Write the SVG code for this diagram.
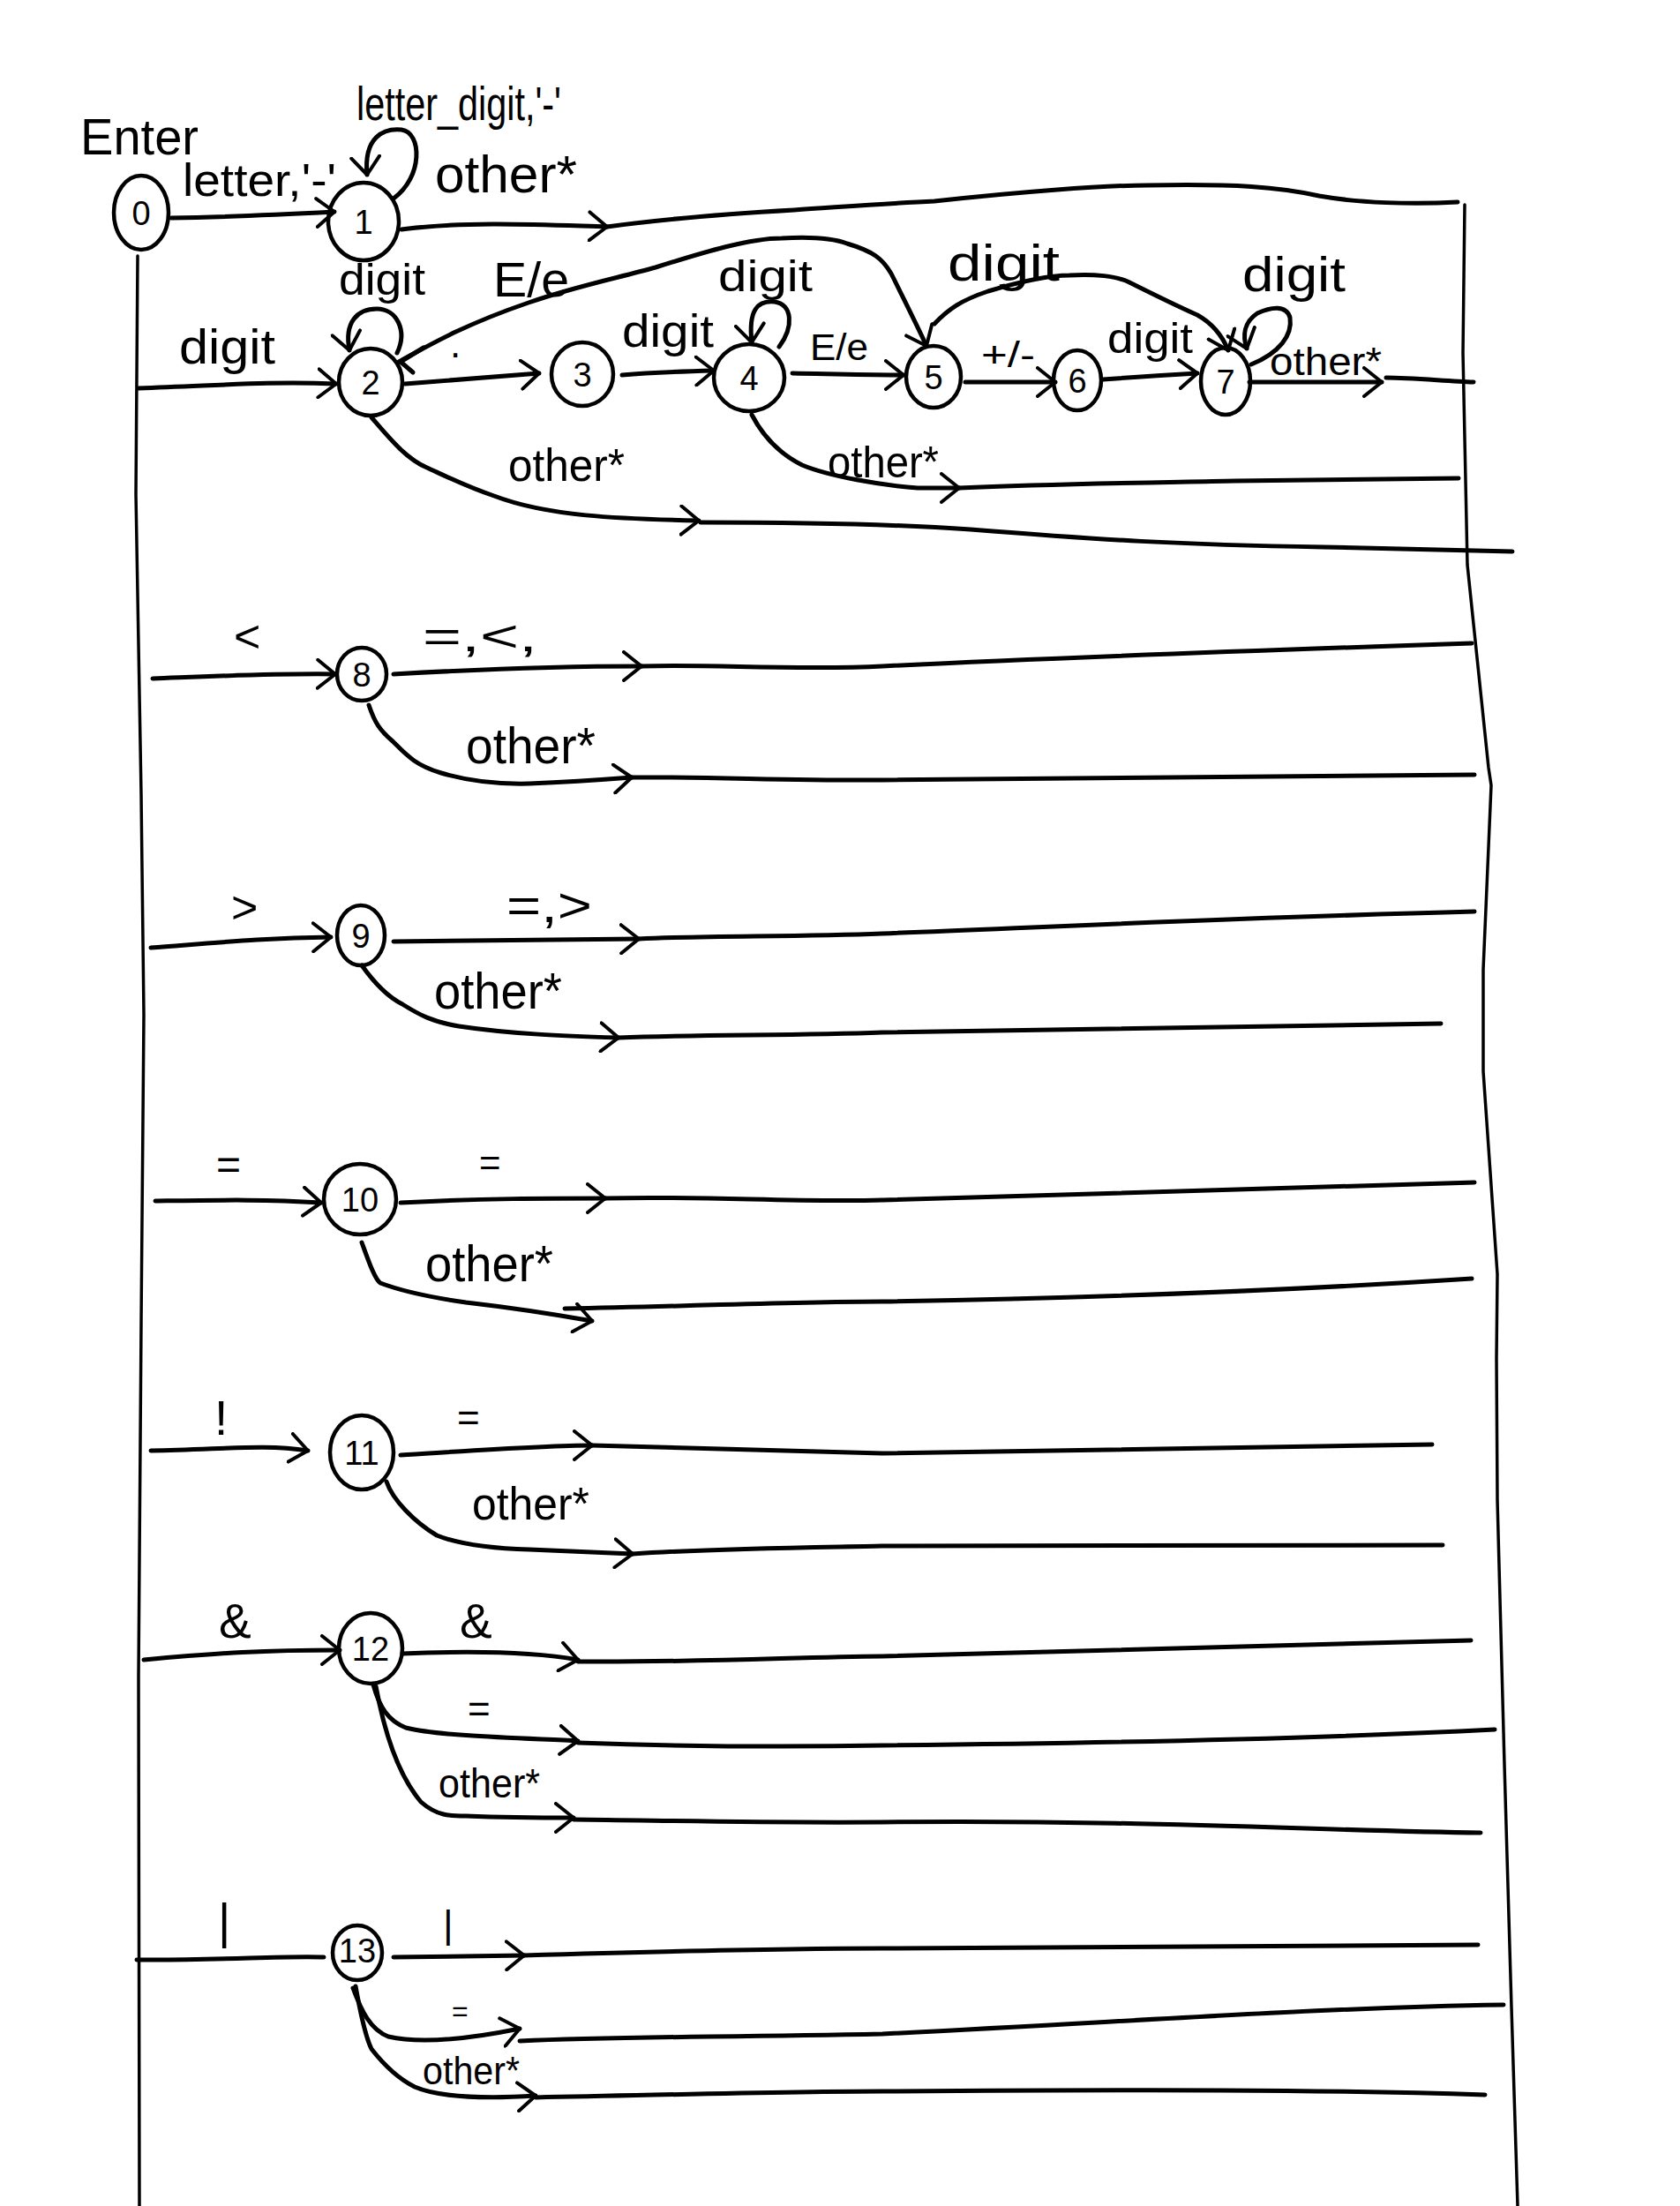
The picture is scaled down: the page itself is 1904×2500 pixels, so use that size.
<svg xmlns="http://www.w3.org/2000/svg" width="1904" height="2500" viewBox="0 0 1904 2500">
<defs>
<style>
.bg{fill:#ffffff}
.ln{fill:none;stroke:#000;stroke-width:5;stroke-linecap:round;stroke-linejoin:round}
.fr{fill:none;stroke:#000;stroke-width:3.5;stroke-linecap:round;stroke-linejoin:round}
.nd{fill:none;stroke:#000;stroke-width:4.5}
.t{font-family:"Liberation Sans","DejaVu Sans",sans-serif;fill:#000}
.nl{font-family:"Liberation Sans","DejaVu Sans",sans-serif;fill:#000;text-anchor:middle;font-size:38px}
</style>
<marker id="arr" viewBox="0 0 24 36" refX="22" refY="18" markerWidth="24" markerHeight="36" markerUnits="userSpaceOnUse" orient="auto">
<path d="M2,2 L22,18 L2,34" fill="none" stroke="#000" stroke-width="4" stroke-linecap="round" stroke-linejoin="round"/>
</marker>
</defs>
<rect class="bg" x="0" y="0" width="1904" height="2500"/>

<g id="connectors">
<!-- frame lines -->
<path class="fr" d="M156,290 L154,560 L160,900 L163,1150 L160,1500 L157,1900 L158,2500"/>
<path class="fr" d="M1660,232 L1658,400 L1663,640 L1687,870 L1690,890 L1681,1099 L1681,1214 L1697,1444 L1696,1540 L1697,1700 L1705,2000 L1713,2275 L1720,2500"/>
<!-- top -->
<path class="ln" marker-end="url(#arr)" d="M194,247 C260,246 320,243 379,240"/>
<path class="ln" marker-end="url(#arr)" d="M446,225 C480,200 478,150 455,147 C435,145 412,155 416,198"/>
<path class="ln" marker-end="url(#arr)" d="M455,260 C530,250 620,255 688,257"/>
<path class="ln" d="M688,257 C760,247 830,242 900,238 C960,234 1010,230 1059,228 C1150,218 1250,210 1300,210 C1400,208 1450,212 1495,222 C1540,230 1600,232 1652,229"/>
<!-- row 2 -->
<path class="ln" marker-end="url(#arr)" d="M157,440 C250,437 300,432 381,435"/>
<path class="ln" marker-end="url(#arr)" d="M450,400 C462,375 450,350 427,350 C405,350 390,365 396,397"/>
<path class="ln" marker-end="url(#arr)" d="M452,410 C480,395 520,370 599,343 C650,325 700,315 743,303 C800,285 850,270 886,270 C920,268 944,270 960,276 C990,285 1000,293 1010,310 C1025,340 1040,370 1050,392"/>
<path class="ln" d="M480,394 L454,410 L468,422"/>
<path class="ln" marker-end="url(#arr)" d="M459,435 C500,432 550,428 611,423"/>
<path class="ln" marker-end="url(#arr)" d="M705,425 C740,422 770,421 809,420"/>
<path class="ln" marker-end="url(#arr)" d="M883,393 C900,370 898,345 878,342 C858,340 848,352 852,388"/>
<path class="ln" marker-end="url(#arr)" d="M898,423 C950,424 980,425 1024,425"/>
<path class="ln" marker-end="url(#arr)" d="M852,470 C865,495 885,515 909,527 C940,540 1000,550 1040,553 L1087,553"/>
<path class="ln" d="M1087,553 C1200,548 1300,547 1400,545 L1653,542"/>
<path class="ln" marker-end="url(#arr)" d="M1094,433 L1196,433"/>
<path class="ln" marker-end="url(#arr)" d="M1250,430 C1290,427 1320,425 1357,423"/>
<path class="ln" marker-end="url(#arr)" d="M1059,367 C1075,350 1090,340 1120,330 C1160,318 1190,312 1212,312 C1240,310 1266,313 1280,320 C1300,330 1330,345 1357,357 C1375,367 1385,380 1392,397"/>
<path class="ln" marker-end="url(#arr)" d="M1418,413 C1450,400 1465,380 1462,360 C1458,345 1440,348 1425,355 C1410,365 1408,380 1413,395"/>
<path class="ln" marker-end="url(#arr)" d="M1416,433 L1566,433"/>
<path class="ln" d="M1571,428 C1600,428 1640,432 1670,433"/>
<path class="ln" marker-end="url(#arr)" d="M421,473 C440,495 460,520 484,530 C510,542 530,552 560,562 C620,585 700,588 792,590"/>
<path class="ln" d="M794,592 C900,592 1000,593 1100,600 C1250,612 1332,617 1500,620 L1714,625"/>
<!-- row 8 -->
<path class="ln" marker-end="url(#arr)" d="M173,769 C250,766 310,763 380,764"/>
<path class="ln" marker-end="url(#arr)" d="M446,764 C550,758 650,755 727,755"/>
<path class="ln" d="M727,755 C800,752 900,760 1000,755 C1200,745 1400,738 1668,729"/>
<path class="ln" marker-end="url(#arr)" d="M418,799 C425,820 431,828 445,840 C460,855 470,867 500,876 C530,885 560,889 600,888 C650,886 690,883 716,881"/>
<path class="ln" d="M716,881 C800,880 900,885 1000,884 L1671,878"/>
<!-- row 9 -->
<path class="ln" marker-end="url(#arr)" d="M171,1074 C250,1068 300,1063 375,1062"/>
<path class="ln" marker-end="url(#arr)" d="M446,1067 L724,1064"/>
<path class="ln" d="M724,1064 C800,1060 900,1062 1000,1058 C1200,1050 1400,1040 1671,1033"/>
<path class="ln" marker-end="url(#arr)" d="M410,1094 C425,1115 440,1130 456,1138 C475,1150 490,1158 520,1163 C580,1172 640,1174 701,1176"/>
<path class="ln" d="M701,1176 C800,1172 900,1174 1000,1170 L1633,1160"/>
<!-- row 10 -->
<path class="ln" marker-end="url(#arr)" d="M176,1361 C250,1360 300,1359 364,1363"/>
<path class="ln" marker-end="url(#arr)" d="M454,1363 C550,1358 620,1358 686,1358"/>
<path class="ln" d="M686,1358 C800,1355 900,1363 1000,1360 C1200,1352 1400,1346 1671,1340"/>
<path class="ln" marker-end="url(#arr)" d="M410,1408 C418,1430 425,1450 431,1454 C460,1465 500,1472 528,1476 C580,1482 620,1488 671,1497"/>
<path class="ln" d="M640,1483 C800,1480 900,1475 1000,1475 C1300,1470 1500,1460 1668,1449"/>
<!-- row 11 -->
<path class="ln" marker-end="url(#arr)" d="M171,1644 C250,1643 300,1636 349,1644"/>
<path class="ln" marker-end="url(#arr)" d="M454,1649 C550,1643 620,1638 671,1638"/>
<path class="ln" d="M671,1638 C800,1642 900,1645 1000,1647 C1200,1645 1400,1640 1623,1637"/>
<path class="ln" marker-end="url(#arr)" d="M438,1679 C445,1700 470,1725 495,1740 C520,1750 560,1755 600,1756 C650,1758 690,1760 717,1761"/>
<path class="ln" d="M717,1761 C800,1755 900,1754 1000,1752 L1635,1751"/>
<!-- row 12 -->
<path class="ln" marker-end="url(#arr)" d="M163,1881 C250,1873 300,1870 385,1870"/>
<path class="ln" marker-end="url(#arr)" d="M456,1874 C550,1870 610,1873 655,1881"/>
<path class="ln" d="M655,1883 C800,1884 900,1878 1000,1877 C1300,1870 1500,1865 1667,1859"/>
<path class="ln" marker-end="url(#arr)" d="M423,1909 C430,1935 440,1950 460,1958 C500,1968 600,1970 655,1973"/>
<path class="ln" d="M655,1975 C800,1980 900,1980 1000,1978 C1300,1975 1500,1970 1694,1960"/>
<path class="ln" marker-end="url(#arr)" d="M426,1911 C435,1960 450,2010 477,2042 C495,2058 510,2058 528,2058 C580,2060 620,2060 650,2060"/>
<path class="ln" d="M650,2062 C750,2063 850,2066 1000,2065 C1300,2062 1500,2075 1678,2077"/>
<!-- row 13 -->
<path class="ln" d="M155,2221 C250,2222 320,2216 367,2218"/>
<path class="ln" marker-end="url(#arr)" d="M446,2218 L594,2216"/>
<path class="ln" d="M594,2216 C800,2210 900,2208 1000,2208 C1300,2208 1500,2205 1675,2204"/>
<path class="ln" marker-end="url(#arr)" d="M400,2253 C410,2280 420,2300 440,2308 C470,2315 520,2313 589,2299"/>
<path class="ln" d="M589,2313 C700,2308 800,2309 1000,2305 C1300,2290 1500,2275 1704,2272"/>
<path class="ln" marker-end="url(#arr)" d="M403,2251 C410,2290 415,2310 421,2322 C435,2340 450,2355 470,2365 C500,2378 560,2378 607,2375"/>
<path class="ln" d="M607,2377 C800,2373 900,2370 1000,2370 C1300,2368 1500,2368 1683,2374"/>
</g>

<g id="labels">
<text class="t" x="91" y="175" font-size="58" textLength="134" lengthAdjust="spacingAndGlyphs">Enter</text>
<text class="t" x="207" y="222" font-size="52" textLength="174" lengthAdjust="spacingAndGlyphs">letter,'-'</text>
<text class="t" x="404" y="136" font-size="54" textLength="232" lengthAdjust="spacingAndGlyphs">letter_digit,'-'</text>
<text class="t" x="493" y="218" font-size="60" textLength="161" lengthAdjust="spacingAndGlyphs">other*</text>
<text class="t" x="203" y="412" font-size="56" textLength="109" lengthAdjust="spacingAndGlyphs">digit</text>
<text class="t" x="384" y="334" font-size="50" textLength="98" lengthAdjust="spacingAndGlyphs">digit</text>
<text class="t" x="559" y="336" font-size="55" textLength="86" lengthAdjust="spacingAndGlyphs">E/e</text>
<text class="t" x="510" y="405" font-size="44">.</text>
<text class="t" x="705" y="393" font-size="52" textLength="104" lengthAdjust="spacingAndGlyphs">digit</text>
<text class="t" x="814" y="330" font-size="50" textLength="107" lengthAdjust="spacingAndGlyphs">digit</text>
<text class="t" x="918" y="408" font-size="42" textLength="66" lengthAdjust="spacingAndGlyphs">E/e</text>
<text class="t" x="1074" y="318" font-size="58" textLength="127" lengthAdjust="spacingAndGlyphs">digit</text>
<text class="t" x="1112" y="416" font-size="40" textLength="61" lengthAdjust="spacingAndGlyphs">+/-</text>
<text class="t" x="1255" y="400" font-size="48" textLength="97" lengthAdjust="spacingAndGlyphs">digit</text>
<text class="t" x="1408" y="330" font-size="55" textLength="117" lengthAdjust="spacingAndGlyphs">digit</text>
<text class="t" x="1439" y="425" font-size="44" textLength="127" lengthAdjust="spacingAndGlyphs">other*</text>
<text class="t" x="576" y="545" font-size="52" textLength="132" lengthAdjust="spacingAndGlyphs">other*</text>
<text class="t" x="938" y="541" font-size="50" textLength="126" lengthAdjust="spacingAndGlyphs">other*</text>
<text class="t" x="265" y="739" font-size="52">&lt;</text>
<text class="t" x="479" y="738" font-size="50" textLength="130" lengthAdjust="spacingAndGlyphs">=,&lt;,</text>
<text class="t" x="528" y="865" font-size="58" textLength="147" lengthAdjust="spacingAndGlyphs">other*</text>
<text class="t" x="262" y="1046" font-size="52">&gt;</text>
<text class="t" x="574" y="1045" font-size="55" textLength="97" lengthAdjust="spacingAndGlyphs">=,&gt;</text>
<text class="t" x="492" y="1143" font-size="58" textLength="145" lengthAdjust="spacingAndGlyphs">other*</text>
<text class="t" x="245" y="1336" font-size="48">=</text>
<text class="t" x="543" y="1332" font-size="42">=</text>
<text class="t" x="482" y="1452" font-size="58" textLength="145" lengthAdjust="spacingAndGlyphs">other*</text>
<text class="t" x="243" y="1626" font-size="55">!</text>
<text class="t" x="518" y="1622" font-size="44">=</text>
<text class="t" x="535" y="1722" font-size="52" textLength="133" lengthAdjust="spacingAndGlyphs">other*</text>
<text class="t" x="248" y="1856" font-size="55">&amp;</text>
<text class="t" x="521" y="1856" font-size="55">&amp;</text>
<text class="t" x="530" y="1952" font-size="44">=</text>
<text class="t" x="497" y="2037" font-size="46" textLength="115" lengthAdjust="spacingAndGlyphs">other*</text>
<text class="t" x="247" y="2196" font-size="55">|</text>
<text class="t" x="502" y="2196" font-size="45">|</text>
<text class="t" x="512" y="2290" font-size="32">=</text>
<text class="t" x="479" y="2362" font-size="44" textLength="110" lengthAdjust="spacingAndGlyphs">other*</text>
</g>

<g id="n0"><ellipse class="nd" cx="160" cy="241" rx="31" ry="42"/><text class="nl" x="160" y="255">0</text></g>
<g id="n1"><ellipse class="nd" cx="412" cy="251" rx="40" ry="44"/><text class="nl" x="412" y="265">1</text></g>
<g id="n2"><ellipse class="nd" cx="420" cy="433" rx="36" ry="38"/><text class="nl" x="420" y="447">2</text></g>
<g id="n3"><ellipse class="nd" cx="660" cy="424" rx="35" ry="36"/><text class="nl" x="660" y="438">3</text></g>
<g id="n4"><ellipse class="nd" cx="849" cy="428" rx="40" ry="38"/><text class="nl" x="849" y="442">4</text></g>
<g id="n5"><ellipse class="nd" cx="1058" cy="427" rx="31" ry="35"/><text class="nl" x="1058" y="441">5</text></g>
<g id="n6"><ellipse class="nd" cx="1221" cy="431" rx="27" ry="34"/><text class="nl" x="1221" y="445">6</text></g>
<g id="n7"><ellipse class="nd" cx="1389" cy="432" rx="28" ry="38"/><text class="nl" x="1389" y="446">7</text></g>
<g id="n8"><ellipse class="nd" cx="410" cy="764" rx="28" ry="30"/><text class="nl" x="410" y="778">8</text></g>
<g id="n9"><ellipse class="nd" cx="409" cy="1060" rx="27" ry="34"/><text class="nl" x="409" y="1074">9</text></g>
<g id="n10"><ellipse class="nd" cx="408" cy="1359" rx="41" ry="40"/><text class="nl" x="408" y="1373">10</text></g>
<g id="n11"><ellipse class="nd" cx="410" cy="1646" rx="36" ry="42"/><text class="nl" x="410" y="1660">11</text></g>
<g id="n12"><ellipse class="nd" cx="420" cy="1868" rx="36" ry="40"/><text class="nl" x="420" y="1882">12</text></g>
<g id="n13"><ellipse class="nd" cx="405" cy="2213" rx="28" ry="31"/><text class="nl" x="405" y="2224" font-size="30">13</text></g>
</svg>
